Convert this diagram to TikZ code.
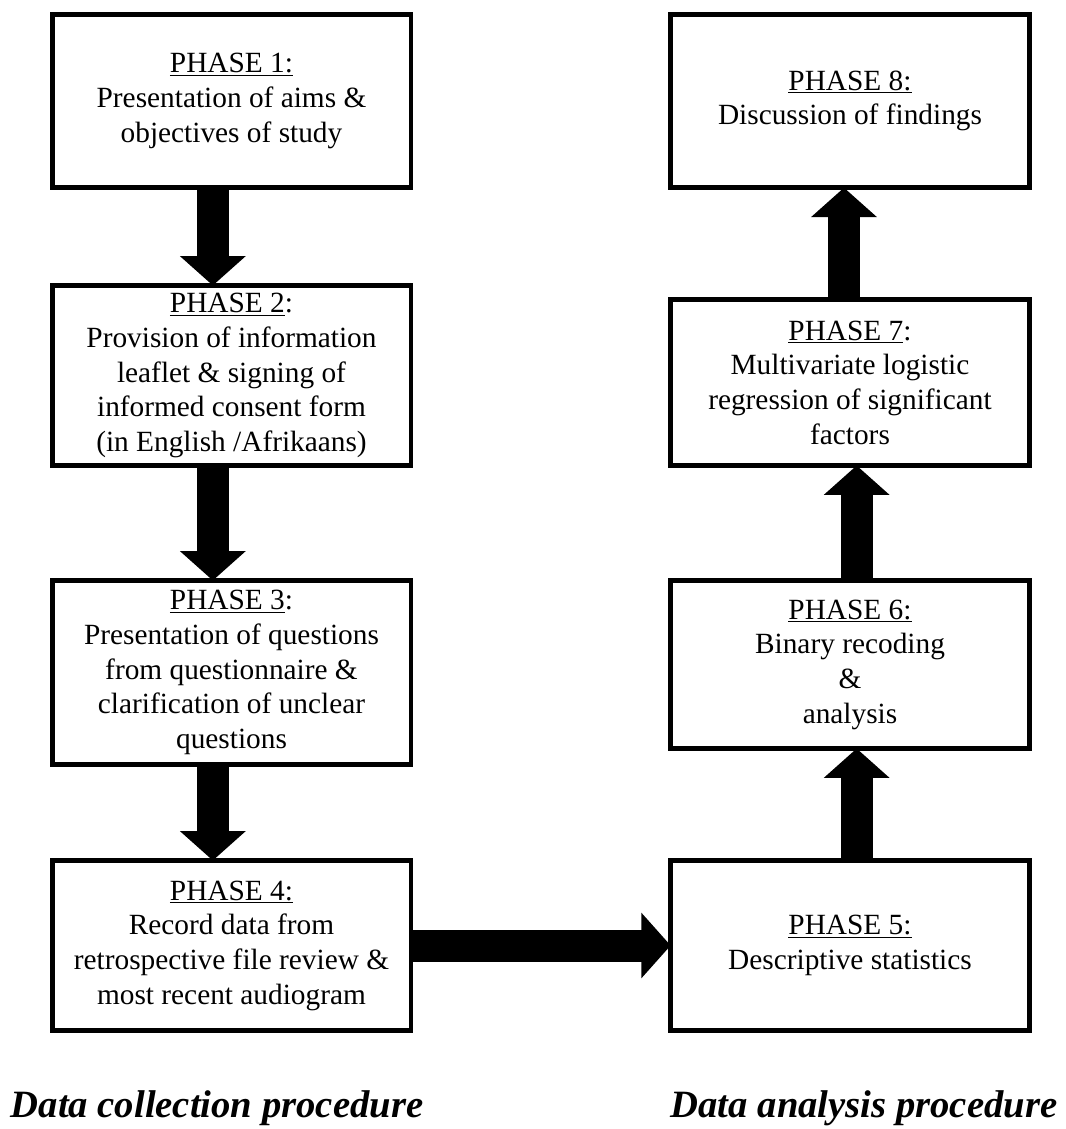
\documentclass[tikz,border=0pt]{standalone}
\usepackage{fontspec}
\setmainfont{Liberation Serif}
\usetikzlibrary{arrows.meta,positioning}
\tikzset{every node/.append style={align=center}}
\tikzset{
  phase/.style={draw, line width=3.5pt, minimum width=269pt, inner sep=0pt, outer sep=0pt, font=\fontsize{22}{26}\selectfont},
  bigarrow/.style={line width=24pt, -{Triangle[width=48pt,length=22pt]}},
  caption/.style={font=\fontsize{29}{34}\selectfont\bfseries\itshape, inner sep=0pt}
}

\begin{document}
\begin{tikzpicture}[x=0.75pt, y=-0.75pt]
        \useasboundingbox (0,0) rectangle (1066,1129);

        % Data collection column
        \node[phase, minimum height=130pt] (b1) at (231.5,101) {\underline{PHASE 1:}\\Presentation of aims \&\\objectives of study};
        \node[phase, minimum height=135pt] (b2) at (231.5,375.5) {\underline{PHASE 2}:\\Provision of information\\leaflet \& signing of\\informed consent form\\(in English /Afrikaans)};
        \node[phase, minimum height=138pt] (b3) at (231.5,672.5) {\underline{PHASE 3}:\\Presentation of questions\\from questionnaire \&\\clarification of unclear\\questions};
        \node[phase, minimum height=127.5pt] (b4) at (231.5,945.5) {\underline{PHASE 4:}\\Record data from\\retrospective file review \&\\most recent audiogram};

        % Data analysis column
        \node[phase, minimum height=127.5pt] (b5) at (850,945.5) {\underline{PHASE 5:}\\Descriptive statistics};
        \node[phase, minimum height=126pt] (b6) at (850,664.5) {\underline{PHASE 6:}\\Binary recoding\\\&\\analysis};
        \node[phase, minimum height=124.5pt] (b7) at (850,382.5) {\underline{PHASE 7}:\\Multivariate logistic\\regression of significant\\factors};
        \node[phase, minimum height=130pt] (b8) at (850,101) {\underline{PHASE 8:}\\Discussion of findings};

        % Block arrows
        \draw[bigarrow] ([xshift=-14pt]b1.south) -- ([xshift=-14pt]b2.north);
        \draw[bigarrow] ([xshift=-14pt]b2.south) -- ([xshift=-14pt]b3.north);
        \draw[bigarrow] ([xshift=-14pt]b3.south) -- ([xshift=-14pt]b4.north);
        \draw[bigarrow] (b4.east) -- (b5.west);
        \draw[bigarrow] ([xshift=5pt]b5.north) -- ([xshift=5pt]b6.south);
        \draw[bigarrow] ([xshift=5pt]b6.north) -- ([xshift=5pt]b7.south);
        \draw[bigarrow] ([xshift=-4.5pt]b7.north) -- ([xshift=-4.5pt]b8.south);

        % Column titles
        \node[caption, anchor=base] (cap1) at (217,1117) {Data collection procedure};
        \node[caption, anchor=base] (cap2) at (864,1117) {Data analysis procedure};
\end{tikzpicture}
\end{document}
